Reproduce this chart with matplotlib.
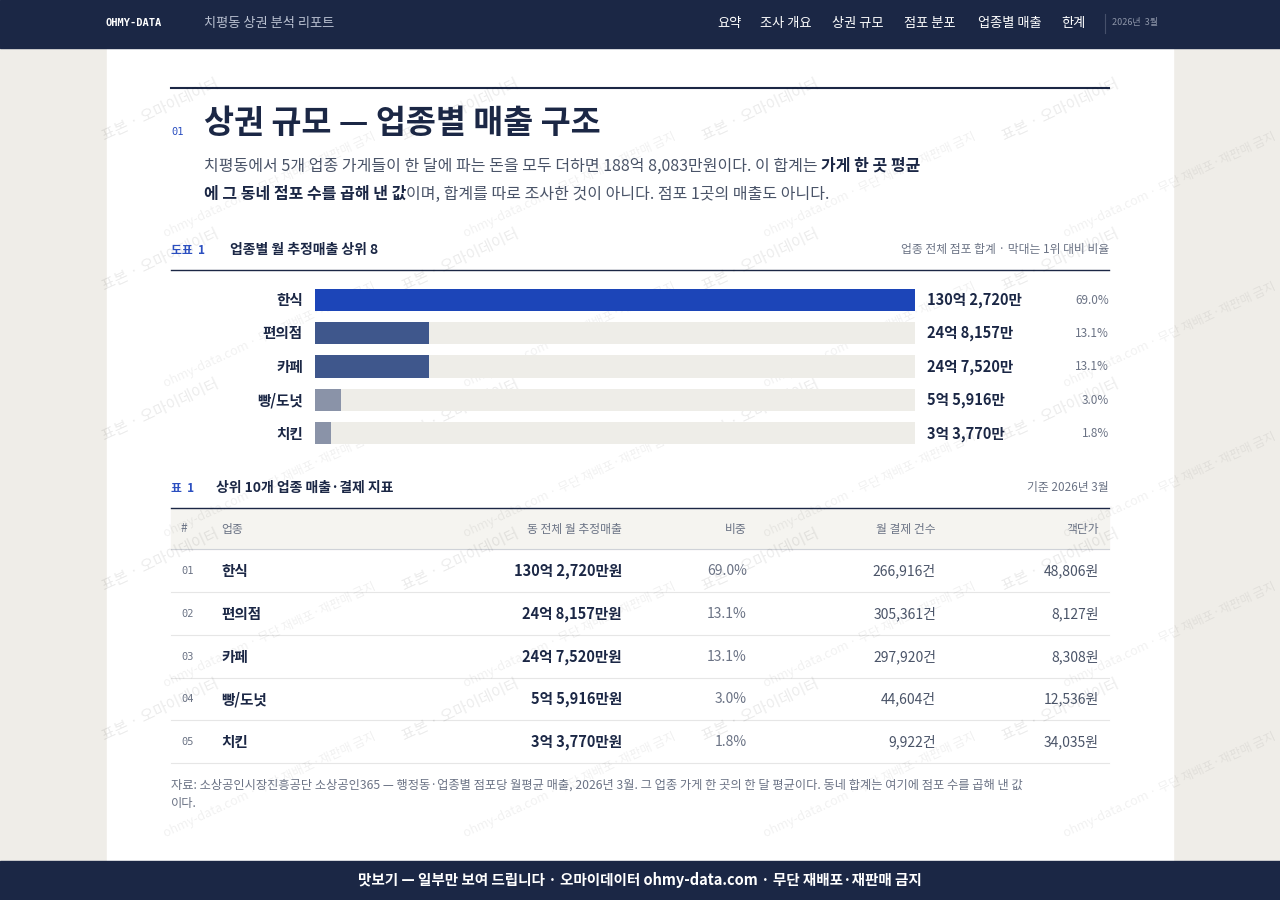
import matplotlib
matplotlib.use("Agg")
import matplotlib.pyplot as plt
from matplotlib.patches import Rectangle

plt.rcParams['font.family'] = ['Noto Sans CJK KR', 'DejaVu Sans']

categories = ["한식", "편의점", "카페", "빵/도넛", "치킨"]
sales_eok = [130.2720, 24.8157, 24.7520, 5.5916, 3.3770]
sales_labels = ["130억 2,720만", "24억 8,157만", "24억 7,520만", "5억 5,916만", "3억 3,770만"]
shares = ["69.0%", "13.1%", "13.1%", "3.0%", "1.8%"]
tx_counts = ["266,916건", "305,361건", "297,920건", "44,604건", "9,922건"]
unit_price = ["48,806원", "8,127원", "8,308원", "12,536원", "34,035원"]
bar_colors = ["#1c45b8", "#3f578c", "#3f578c", "#8a93a8", "#8a93a8"]

NAVY = "#1b2745"
fig = plt.figure(figsize=(12.8, 9), dpi=100)
fig.patch.set_facecolor("#efede8")
ax = fig.add_axes([0, 0, 1, 1])
ax.set_xlim(0, 1280); ax.set_ylim(900, 0); ax.axis("off")
renderer = fig.canvas.get_renderer()

def T(x, y, s, size=10, color="#222", ha="left", weight="normal", **kw):
    return ax.text(x, y, s, fontsize=size, color=color, ha=ha, va="center", weight=weight, **kw)

def run(x, y, parts, size):
    for s, color, weight in parts:
        t = T(x, y, s, size, color, weight=weight)
        bb = t.get_window_extent(renderer)
        x += bb.width

# page
ax.add_patch(Rectangle((107, 48), 1066, 813, color="white", zorder=0))
# watermarks
for wx in range(120, 1200, 300):
    for wy in range(110, 800, 150):
        ax.text(wx + 40, wy, "표본 · 오마이데이터", fontsize=11, color="#000000", alpha=0.08, rotation=25, ha="center", va="center")
        ax.text(wx + 150, wy + 75, "ohmy-data.com · 무단 재배포·재판매 금지", fontsize=9, color="#000000", alpha=0.06, rotation=25, ha="center", va="center")
# header
ax.add_patch(Rectangle((0, 0), 1280, 48, color=NAVY, zorder=3))
T(106, 23, "OHMY-DATA", 7.5, "white", weight="bold", family=["DejaVu Sans Mono"], zorder=4)
T(204, 23, "치평동 상권 분석 리포트", 9.5, "#b9c0d0", zorder=4)
for x, s in [(717, "요약"), (760, "조사 개요"), (832, "상권 규모"), (904, "점포 분포"), (978, "업종별 매출"), (1061, "한계")]:
    T(x, 23, s, 9.5, "white", zorder=4)
ax.plot([1105, 1105], [14, 33], color="#46506a", lw=0.8, zorder=4)
T(1112, 23, "2026년  3월", 6.5, "#8d95a8", zorder=4)
# footer
ax.add_patch(Rectangle((0, 861), 1280, 39, color=NAVY, zorder=3))
T(640, 880, "맛보기 — 일부만 보여 드립니다 · 오마이데이터 ohmy-data.com · 무단 재배포·재판매 금지", 10.5, "white", ha="center", weight="bold", zorder=4)

# title
ax.plot([171, 1109], [88, 88], color=NAVY, lw=1.5)
T(171, 132, "01", 7.5, "#2b4fc0", family=["DejaVu Sans Mono"])
T(204, 124, "상권 규모 — 업종별 매출 구조", 23.5, NAVY, weight="bold")
GRAY = "#4a5468"
run(204, 166, [("치평동에서 5개 업종 가게들이 한 달에 파는 돈을 모두 더하면 188억 8,083만원이다. 이 합계는 ", GRAY, "normal"),
               ("가게 한 곳 평균", NAVY, "bold")], 11.5)
run(204, 194, [("에 그 동네 점포 수를 곱해 낸 값", NAVY, "bold"),
               ("이며, 합계를 따로 조사한 것이 아니다. 점포 1곳의 매출도 아니다.", GRAY, "normal")], 11.5)

# chart header
T(171, 251, "도표  1", 8.5, "#2b4fc0", weight="bold")
T(230, 250, "업종별 월 추정매출 상위 8", 10, NAVY, weight="bold")
T(1109, 250, "업종 전체 점포 합계 · 막대는 1위 대비 비율", 8.5, "#6b7385", ha="right")
ax.plot([171, 1109], [270, 270], color=NAVY, lw=1)

# bar axes
bax = fig.add_axes([315/1280, 1-450/900, 600/1280, (450-283)/900])
bax.set_xlim(0, sales_eok[0]); bax.set_ylim(len(categories)-0.5, -0.5); bax.axis("off")
bax.patch.set_alpha(0)
ys = list(range(len(categories)))
bax.barh(ys, [sales_eok[0]]*5, height=0.66, color="#eeede8")
bax.barh(ys, sales_eok, height=0.66, color=bar_colors)
for i in ys:
    py = 300 + i * 33.4
    T(303, py, categories[i], 10.5, NAVY, ha="right", weight="bold")
    T(927, py, sales_labels[i], 10.5, NAVY, weight="bold")
    T(1109, py, shares[i], 8.5, "#6b7385", ha="right")

# table
T(171, 489, "표  1", 8.5, "#2b4fc0", weight="bold")
T(216, 488, "상위 10개 업종 매출·결제 지표", 10, NAVY, weight="bold")
T(1109, 488, "기준 2026년 3월", 8.5, "#6b7385", ha="right")
ax.plot([171, 1109], [508, 508], color=NAVY, lw=1)
ax.add_patch(Rectangle((171, 509), 938, 40, color="#f5f4f0"))
ax.plot([171, 1109], [549, 549], color="#cfd2d8", lw=0.8)
hy = 529
T(181, hy, "#", 8.5, "#6b7385"); T(221, hy, "업종", 8.5, "#6b7385")
T(622, hy, "동 전체 월 추정매출", 8.5, "#6b7385", ha="right")
T(747, hy, "비중", 8.5, "#6b7385", ha="right")
T(936, hy, "월 결제 건수", 8.5, "#6b7385", ha="right")
T(1099, hy, "객단가", 8.5, "#6b7385", ha="right")
for i in ys:
    ry = 571 + i * 42.8
    T(181, ry, f"{i+1:02d}", 7.5, "#6b7385", family=["DejaVu Sans Mono"])
    T(221, ry, categories[i], 10.5, NAVY, weight="bold")
    T(622, ry, sales_labels[i] + "원", 10.5, NAVY, ha="right", weight="bold")
    T(747, ry, shares[i], 10, "#6b7385", ha="right")
    T(936, ry, tx_counts[i], 10, GRAY, ha="right")
    T(1099, ry, unit_price[i], 10, GRAY, ha="right")
    ax.plot([171, 1109], [592 + i * 42.8, 592 + i * 42.8], color="#e6e6e6", lw=0.8)
T(171, 785, "자료: 소상공인시장진흥공단 소상공인365 — 행정동·업종별 점포당 월평균 매출, 2026년 3월. 그 업종 가게 한 곳의 한 달 평균이다. 동네 합계는 여기에 점포 수를 곱해 낸 값", 8.8, "#6b7385")
T(171, 803, "이다.", 8.8, "#6b7385")

fig.savefig("out.png", dpi=100)
